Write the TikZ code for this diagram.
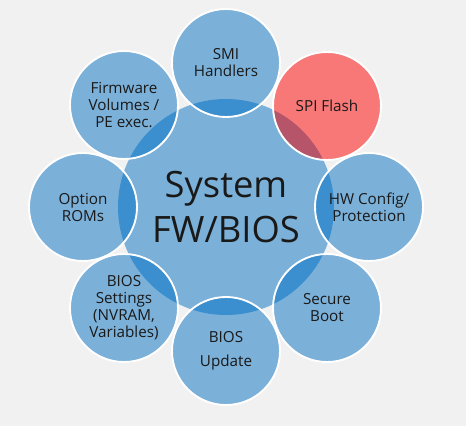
\documentclass[tikz,border=0pt]{standalone}
\usepackage{fontspec}
\setmainfont{Open Sans}
\usetikzlibrary{positioning}
\pgfdeclarelayer{back}
\pgfsetlayers{back,main}
\definecolor{paper}{RGB}{241,241,241}
\definecolor{lblue}{RGB}{123,176,217}
\definecolor{dblue}{RGB}{59,143,206}
\definecolor{lred}{RGB}{248,120,120}
\definecolor{dred}{RGB}{182,84,106}

\begin{document}
\begin{tikzpicture}[x=0.03cm, y=-0.03cm,
    hub/.style={circle, inner sep=0pt, minimum size=6.48cm, align=center,
                text=black!90, font=\fontsize{31}{38}\selectfont},
    part/.style={circle, draw=white, line width=1.6pt, inner sep=0pt,
                 minimum size=3.24cm, align=center, text=black!90,
                 font=\fontsize{13}{14.5}\selectfont}]
  % centre and ring
  \node [hub]  (sys) at (226, 207) {System\\FW/BIOS};
  \node [part] (smi) at (226, 63)  {SMI\\Handlers};
  \node [part] (spi) at (327, 106) {SPI Flash};
  \node [part] (hw)  at (369, 207) {HW Config/\\Protection};
  \node [part] (sec) at (327, 308) {Secure\\Boot};
  \node [part] (upd) at (226, 351) {BIOS\\[6pt]Update};
  \node [part] (set) at (124, 308) {BIOS\\Settings\\(NVRAM,\\Variables)};
  \node [part] (rom) at (83, 207)  {Option\\ROMs};
  \node [part] (fwv) at (124, 105) {Firmware\\Volumes /\\PE exec.};
  % paper, fills and overlaps behind the nodes
  \begin{pgfonlayer}{back}
    \fill[paper] (0, 0) rectangle (466, 426);
    \fill[lblue] (sys.center) circle (108);
    \foreach \n in {smi, hw, sec, upd, set, rom, fwv}
      \fill[lblue] (\n.center) circle (54);
    \fill[lred] (spi.center) circle (54);
    \begin{scope}
      \clip (sys.center) circle (108);
      \foreach \n in {smi, hw, sec, upd, set, rom, fwv}
        \fill[dblue] (\n.center) circle (54);
      \fill[dred] (spi.center) circle (54);
    \end{scope}
  \end{pgfonlayer}
\end{tikzpicture}
\end{document}
